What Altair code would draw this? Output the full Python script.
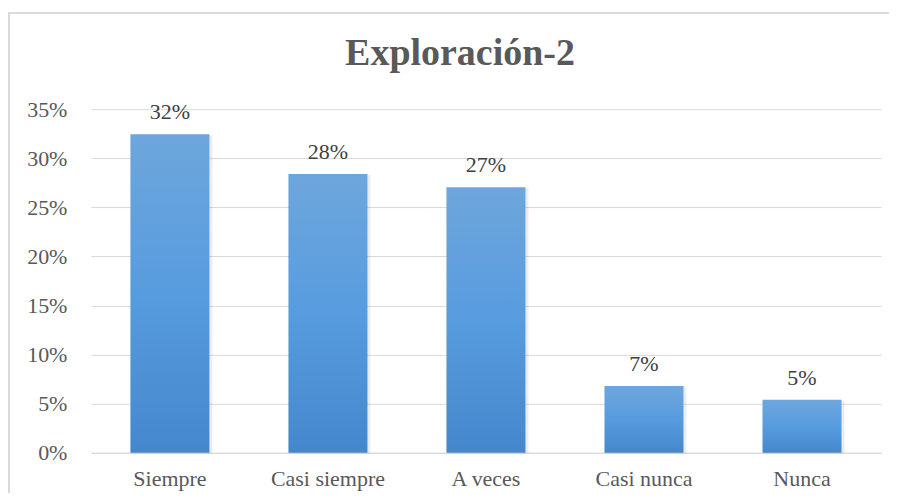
import altair as alt
import pandas as pd

categories = ["Siempre", "Casi siempre", "A veces", "Casi nunca", "Nunca"]
values = [0.3245, 0.284, 0.2705, 0.068, 0.054]
labels = ["32%", "28%", "27%", "7%", "5%"]

df = pd.DataFrame({"cat": categories, "val": values, "lab": labels})

FONT = "'Liberation Serif', 'Times New Roman', serif"
GREY = "#595959"

x = alt.X("cat:N", sort=categories, title=None,
          scale=alt.Scale(paddingInner=0.5, paddingOuter=0.25),
          axis=alt.Axis(labelAngle=0, labelFont=FONT, labelFontSize=22,
                        labelColor=GREY, ticks=False, domain=True,
                        domainColor="#d9d9d9", labelPadding=16))
y = alt.Y("val:Q", title=None,
          scale=alt.Scale(domain=[0, 0.35], nice=False),
          axis=alt.Axis(format=".0%", values=[0, .05, .1, .15, .2, .25, .3, .35],
                        labelFont=FONT, labelFontSize=22, labelColor=GREY,
                        ticks=False, domain=False, grid=True, gridColor="#d9d9d9",
                        labelPadding=24))

border = alt.Chart(df).mark_rect(fill=None, stroke="#d9d9d9", strokeWidth=1.5, clip=False).encode(
    x=alt.value(-82), x2=alt.value(805), y=alt.value(-96), y2=alt.value(420)
)

shadow = alt.Chart(df).mark_bar(color="#7f7f7f", opacity=0.15, xOffset=2, yOffset=1,
                                 size=81).encode(x=x, y=y)

bars = alt.Chart(df).mark_bar(
    color=alt.Gradient(
        gradient="linear",
        stops=[alt.GradientStop(color="#6EA6DC", offset=0),
               alt.GradientStop(color="#579CDF", offset=0.5),
               alt.GradientStop(color="#4587CC", offset=1)],
        x1=0, x2=0, y1=0, y2=1),
).encode(x=x, y=y)

text = alt.Chart(df).mark_text(font=FONT, fontSize=22, color="#404040",
                               baseline="alphabetic", dy=-15).encode(
    x=alt.X("cat:N", sort=categories), y="val:Q", text="lab:N")

chart = alt.layer(border, shadow, bars, text).properties(
    width=791, height=344,
    title=alt.TitleParams("Exploración-2", font=FONT, fontSize=38, fontWeight="bold",
                          color=GREY, anchor="middle", dx=-26, offset=-61),
    autosize=alt.AutoSizeParams(type="none"),
    padding={"left": 83, "top": 101, "right": 8, "bottom": 40},
).configure_view(stroke=None)

chart.save("out.html", embed_options={"renderer": "svg", "actions": False})
